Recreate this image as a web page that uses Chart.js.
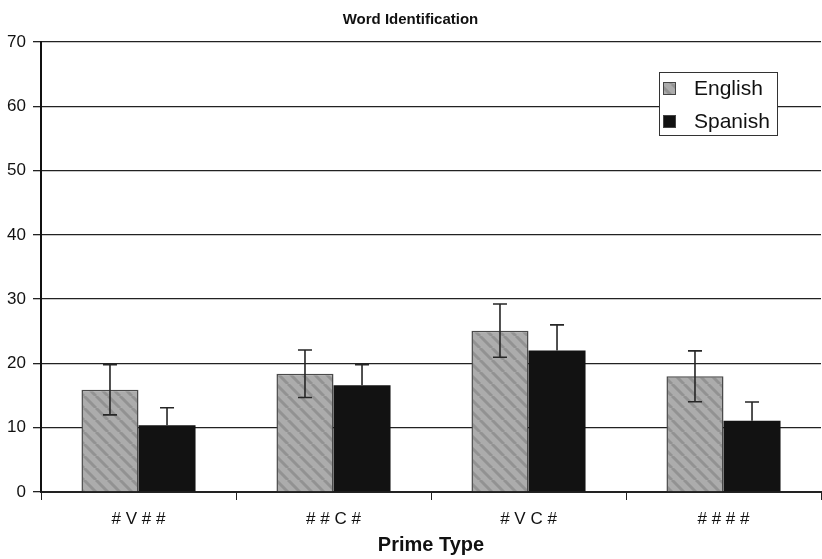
<!DOCTYPE html>
<html>
<head>
<meta charset="utf-8">
<script src="https://cdn.jsdelivr.net/npm/chart.js@4.4.1/dist/chart.umd.min.js"></script>
<style>
  html, body { margin: 0; padding: 0; background: #fff; overflow: hidden; }
  #myChart { display: block; }
</style>
</head>
<body>
<canvas id="myChart" width="822" height="559"></canvas>
<script>
const categories = ['# V # #', '# # C #', '# V C #', '# # # #'];
const english = [15.9, 18.4, 25.1, 18.0];
const englishErr = [3.9, 3.7, 4.15, 3.95];
const spanish = [10.4, 16.6, 22.0, 11.1];
const spanishErr = [2.7, 3.2, 4.0, 2.9];
const yTicks = [0, 10, 20, 30, 40, 50, 60, 70];

// gray hatch with "\" stripes
function makeHatch() {
  const s = 12;
  const c = document.createElement('canvas');
  c.width = s; c.height = s;
  const g = c.getContext('2d');
  g.fillStyle = '#acacac';
  g.fillRect(0, 0, s, s);
  g.strokeStyle = '#929292';
  g.lineWidth = 3;
  for (let x0 = -s; x0 <= s; x0 += s) {
    g.beginPath();
    g.moveTo(x0, 0);
    g.lineTo(x0 + s, s);
    g.stroke();
  }
  return g.createPattern(c, 'repeat');
}
const hatch = makeHatch();

const errors = [englishErr, spanishErr];
// lower whisker of the black bars is hidden in the original
const showLower = [true, false];

// draw the whiskers on top of the bars
const errorBars = {
  id: 'errorBars',
  afterDatasetsDraw(chart) {
    const ctx = chart.ctx;
    const y = chart.scales.y;
    ctx.save();
    ctx.strokeStyle = '#262626';
    ctx.lineWidth = 1.6;
    chart.data.datasets.forEach((ds, di) => {
      const meta = chart.getDatasetMeta(di);
      meta.data.forEach((bar, i) => {
        const v = ds.data[i];
        const e = errors[di][i];
        const top = y.getPixelForValue(v + e);
        const bot = showLower[di] ? y.getPixelForValue(v - e) : y.getPixelForValue(v);
        const cap = 7;
        ctx.beginPath();
        ctx.moveTo(bar.x, top); ctx.lineTo(bar.x, bot);
        ctx.moveTo(bar.x - cap, top); ctx.lineTo(bar.x + cap, top);
        if (showLower[di]) {
          ctx.moveTo(bar.x - cap, bot); ctx.lineTo(bar.x + cap, bot);
        }
        ctx.stroke();
      });
    });
    ctx.restore();
  }
};

// boxed legend inside the plot
const boxLegend = {
  id: 'boxLegend',
  afterDraw(chart) {
    const ctx = chart.ctx;
    ctx.save();
    ctx.fillStyle = '#fff';
    ctx.fillRect(659, 72, 119, 64);
    ctx.strokeStyle = '#333';
    ctx.lineWidth = 1;
    ctx.strokeRect(659.5, 72.5, 118, 63);
    const items = [
      { label: 'English', fill: hatch, y: 82 },
      { label: 'Spanish', fill: '#111', y: 115 }
    ];
    items.forEach(it => {
      ctx.fillStyle = it.fill;
      ctx.fillRect(663, it.y, 13, 13);
      ctx.strokeStyle = '#444';
      ctx.strokeRect(663.5, it.y + 0.5, 12, 12);
      ctx.fillStyle = '#111';
      ctx.font = '21px "Liberation Sans", Arial, sans-serif';
      ctx.textBaseline = 'middle';
      ctx.fillText(it.label, 694, it.y + 7);
    });
    ctx.restore();
  }
};

const chart = new Chart(document.getElementById('myChart'), {
  type: 'bar',
  data: {
    labels: categories,
    datasets: [
      {
        label: 'English',
        data: english,
        backgroundColor: hatch,
        borderColor: '#4a4a4a',
        borderWidth: 1.5,
        categoryPercentage: 0.585,
        barPercentage: 1.0
      },
      {
        label: 'Spanish',
        data: spanish,
        backgroundColor: '#121212',
        borderColor: '#121212',
        borderWidth: 0,
        categoryPercentage: 0.585,
        barPercentage: 1.0
      }
    ]
  },
  options: {
    responsive: false,
    animation: false,
    devicePixelRatio: 1,
    layout: { padding: { left: 0, right: 1, top: 0, bottom: 0 } },
    plugins: {
      legend: { display: false },
      tooltip: { enabled: false },
      title: {
        display: true,
        text: 'Word Identification',
        color: '#111',
        font: { family: '"Liberation Sans", Arial, sans-serif', size: 15, weight: 'bold' },
        padding: { top: 11, bottom: 13 }
      }
    },
    scales: {
      x: {
        offset: true,
        grid: {
          offset: true,
          drawOnChartArea: false,
          drawTicks: true,
          tickLength: 8,
          color: '#222'
        },
        border: { color: '#222', width: 2 },
        ticks: {
          color: '#111',
          padding: 9,
          font: { family: '"Liberation Sans", Arial, sans-serif', size: 17 }
        },
        title: {
          display: true,
          text: 'Prime Type',
          color: '#111',
          font: { family: '"Liberation Sans", Arial, sans-serif', size: 20, weight: 'bold' },
          padding: { top: 4, bottom: 2 }
        },
        afterFit(scale) { scale.height = 67; }
      },
      y: {
        min: 0,
        max: 70,
        afterBuildTicks(scale) { scale.ticks = yTicks.map(v => ({ value: v })); },
        grid: {
          color: '#222',
          lineWidth: 1.3,
          tickLength: 8
        },
        border: { color: '#111', width: 2 },
        ticks: {
          color: '#111',
          padding: 7,
          font: { family: '"Liberation Sans", Arial, sans-serif', size: 17 }
        },
        afterFit(scale) { scale.width = 41; }
      }
    }
  },
  plugins: [errorBars, boxLegend]
});
</script>
</body>
</html>
